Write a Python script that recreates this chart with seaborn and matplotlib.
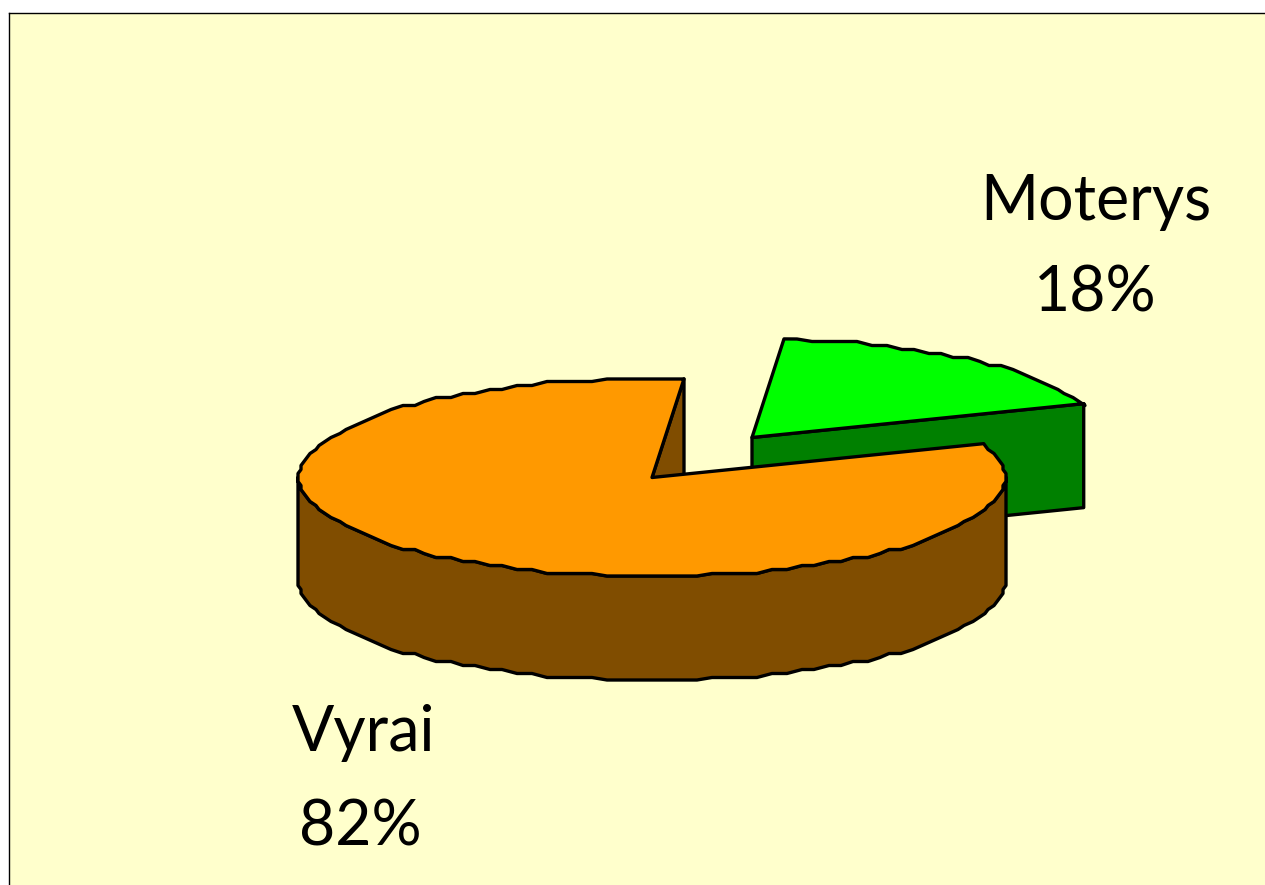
# 3D style exploded pie: Vyrai / Moterys
import numpy as np
import seaborn as sns
import matplotlib.pyplot as plt
from matplotlib.path import Path

categories = ['Vyrai', 'Moterys']
shares = [82, 18]
top_colors = ['#FF9900', '#00FF00']
side_colors = ['#804D00', '#008000']

W, H = 1265, 885
# pie geometry in pixels of the output image
CX, CY = 652, 477.5
RX, RY = 353, 99
DEPTH = 104 / RY
MOVE = (100 / RX, 40 / RY)  # how far the small slice is pulled out
LEFT, TOP = 8.5, 12.5
LW = 2.4

sns.set_style('white')
plt.rcParams['font.family'] = ['Lato', 'DejaVu Sans']

fig = plt.figure(figsize=(W / 100, H / 100), dpi=100, facecolor='white')
ax = fig.add_axes([LEFT / W, 0, 1 - LEFT / W, (H - TOP) / H])

wedges, _ = ax.pie(shares, startangle=84.8, counterclock=True, radius=1,
                   colors=top_colors,
                   wedgeprops=dict(edgecolor='black', linewidth=LW, joinstyle='round'))


def rim(t1, t2, step=2.5):
    # outline of the ellipse, snapped to a coarse grid like the old renderer did
    t = np.radians(np.arange(np.ceil(t1 / step) * step, t2, step))
    x = np.round(np.cos(t) * RX / 3) * 3 / RX
    y = np.round(np.sin(t) * RY / 4) * 4 / RY
    return x, np.clip(y, -0.995, 0.995)


def point(t):
    return np.cos(np.radians(t)), np.sin(np.radians(t))


def wall(xs, ys, color, z):
    ax.fill(xs, ys, facecolor=color, edgecolor='black', linewidth=LW,
            joinstyle='round', zorder=z)


offsets = [(0, 0), MOVE]
for i, w in enumerate(wedges):
    dx, dy = offsets[i]
    x, y = rim(w.theta1, w.theta2)
    x0, y0 = point(w.theta1)
    x1, y1 = point(w.theta2)
    xs = np.r_[0, x0, x, x1, 0] + dx
    ys = np.r_[0, y0, y, y1, 0] + dy
    w._path = Path(np.c_[xs, ys], closed=True)
    w.set_zorder(3 if i == 1 else 6)

# green slice: only the cut face at its low angle can be seen
th = wedges[1].theta1
px, py = point(th)
wall(np.array([0, px, px, 0]) + MOVE[0],
     np.array([0, py, py - DEPTH, -DEPTH]) + MOVE[1], side_colors[1], 2)

# orange slice: cut face near the gap and the front rim
th = wedges[0].theta1
px, py = point(th)
wall([0, px, px, 0], [0, py, py - DEPTH, -DEPTH], side_colors[0], 4)
x, y = rim(180, 360.01)
wall(np.r_[x, x[::-1]], np.r_[y, y[::-1] - DEPTH], side_colors[0], 5)

ax.set_aspect('auto')
ax.set_xlim((LEFT - CX) / RX, (W - CX) / RX)
ax.set_ylim((CY - H) / RY, (CY - TOP) / RY)
ax.set_frame_on(True)
ax.set_facecolor('#FFFFCC')
sns.despine(ax=ax, right=True, bottom=True)
for s in ['left', 'top']:
    ax.spines[s].set_visible(True)
    ax.spines[s].set_color('black')
    ax.spines[s].set_linewidth(1.0)

# labels
fs = 45
fig.text(1096 / W, 1 - 220 / H, categories[1], fontsize=fs, color='black', ha='center', va='baseline')
fig.text(1095 / W, 1 - 312 / H, f'{shares[1]}%', fontsize=fs, color='black', ha='center', va='baseline')
fig.text(292 / W, 1 - 751 / H, categories[0], fontsize=fs, color='black', ha='left', va='baseline')
fig.text(299 / W, 1 - 845 / H, f'{shares[0]}%', fontsize=fs, color='black', ha='left', va='baseline')

plt.savefig('out.png', dpi=100)
